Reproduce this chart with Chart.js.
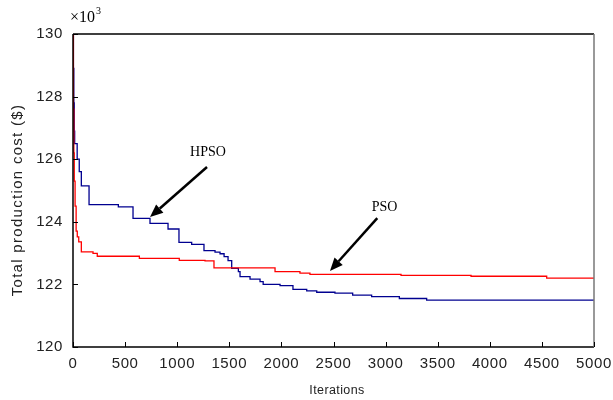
<!DOCTYPE html>
<html>
<head>
<meta charset="utf-8">
<script src="https://cdn.jsdelivr.net/npm/chart.js@4.4.1/dist/chart.umd.min.js"></script>
<style>
    html, body { margin: 0; padding: 0; background: #fff; }
    #wrap { width: 613px; height: 400px; }
</style>
</head>
<body>
<div id="wrap"><canvas id="costChart" width="613" height="400"></canvas></div>
<script>
// convergence data: [iteration, cost x10^3 $]
var hpsoIter = [0, 4, 8, 12, 16, 40, 60, 80, 154, 435, 576, 739, 912, 1017, 1139, 1257, 1363, 1411, 1450, 1488, 1523, 1587, 1603, 1699, 1795, 1825, 1987, 2111, 2243, 2339, 2514, 2684, 2866, 3132, 3394, 5000];
var hpsoCost = [130, 128.9, 127.8, 126.9, 126.5, 126.0, 125.6, 125.15, 124.55, 124.48, 124.11, 123.95, 123.77, 123.34, 123.28, 123.08, 123.03, 122.98, 122.89, 122.76, 122.51, 122.41, 122.25, 122.17, 122.09, 122.0, 121.96, 121.84, 121.79, 121.75, 121.72, 121.66, 121.61, 121.55, 121.5, 121.5];

var psoIter = [0, 4, 8, 12, 20, 30, 41, 55, 80, 192, 233, 637, 1020, 1267, 1353, 1939, 2178, 2274, 3148, 3820, 4546, 5000];
var psoCost = [130, 127.6, 126.2, 125.3, 124.5, 123.7, 123.52, 123.36, 123.04, 122.99, 122.9, 122.83, 122.77, 122.75, 122.53, 122.41, 122.36, 122.32, 122.29, 122.26, 122.2, 122.2];

var xTicks = [0, 500, 1000, 1500, 2000, 2500, 3000, 3500, 4000, 4500, 5000];
var yTicks = [120, 122, 124, 126, 128, 130];

var xTitle = 'Iterations';
var yTitle = 'Total production cost ($)';

// callouts: label, label position, arrow tail, arrow head (data units)
var calloutNames = ['HPSO', 'PSO'];
var calloutText = [[1295, 126.23], [2990, 124.47]];
var calloutTail = [[1286, 125.75], [2920, 124.12]];
var calloutHead = [[739, 124.15], [2466, 122.43]];

var sans = '"Liberation Sans", Arial, sans-serif';
var serif = '"Liberation Serif", "Times New Roman", serif';

function toPoints(xs, ys) {
    var pts = [];
    for (var i = 0; i < xs.length; i++) {
        pts.push({ x: xs[i], y: ys[i] });
    }
    return pts;
}

// frame, inner tick marks, titles, x10^3 and arrows
var extrasPlugin = {
    id: 'extras',
    beforeDraw: function(chart) {
        chart.ctx.letterSpacing = '0.6px';
    },
    afterDraw: function(chart) {
        var ctx = chart.ctx;
        var a = chart.chartArea;
        var xs = chart.scales.x;
        var ys = chart.scales.y;

        ctx.save();
        ctx.letterSpacing = '0px';
        ctx.strokeStyle = '#000';
        ctx.lineWidth = 1.5;
        ctx.beginPath();
        ctx.moveTo(a.left, a.top);
        ctx.lineTo(a.left, a.bottom);
        ctx.lineTo(a.right, a.bottom);
        ctx.moveTo(a.left, a.top);
        ctx.lineTo(a.right, a.top);
        ctx.stroke();
        ctx.strokeStyle = '#777';
        ctx.beginPath();
        ctx.moveTo(a.right, a.top);
        ctx.lineTo(a.right, a.bottom);
        ctx.stroke();

        ctx.strokeStyle = '#000';
        ctx.lineWidth = 1;
        ctx.beginPath();
        xTicks.forEach(function(v) {
            var px = Math.round(xs.getPixelForValue(v)) + 0.5;
            ctx.moveTo(px, a.bottom);
            ctx.lineTo(px, a.bottom - 5);
        });
        yTicks.forEach(function(v) {
            var py = Math.round(ys.getPixelForValue(v)) + 0.5;
            ctx.moveTo(a.left, py);
            ctx.lineTo(a.left + 5, py);
        });
        ctx.stroke();

        // axis titles
        ctx.fillStyle = '#222';
        ctx.textAlign = 'center';
        ctx.textBaseline = 'middle';
        ctx.font = '12.5px ' + sans;
        ctx.letterSpacing = '0.4px';
        ctx.fillText(xTitle, a.left + 264, 391);
        ctx.save();
        ctx.translate(18, 200);
        ctx.rotate(-Math.PI / 2);
        ctx.font = '15px ' + sans;
        ctx.letterSpacing = '1.3px';
        ctx.fillText(yTitle, 0, 0);
        ctx.restore();
        ctx.letterSpacing = '0px';

        // exponent
        ctx.fillStyle = '#000';
        ctx.font = '16px ' + serif;
        ctx.textBaseline = 'alphabetic';
        ctx.textAlign = 'left';
        var ex = a.left - 3;
        ctx.fillText('\u00d710', ex, a.top - 12);
        var w = ctx.measureText('\u00d710').width;
        ctx.font = '10px ' + serif;
        ctx.fillText('3', ex + w + 1, a.top - 20);

        for (var i = 0; i < calloutNames.length; i++) {
            var tx = xs.getPixelForValue(calloutText[i][0]);
            var ty = ys.getPixelForValue(calloutText[i][1]);
            ctx.font = '14px ' + serif;
            ctx.textAlign = 'center';
            ctx.textBaseline = 'middle';
            ctx.fillText(calloutNames[i], tx, ty);

            var x1 = xs.getPixelForValue(calloutTail[i][0]);
            var y1 = ys.getPixelForValue(calloutTail[i][1]);
            var x2 = xs.getPixelForValue(calloutHead[i][0]);
            var y2 = ys.getPixelForValue(calloutHead[i][1]);
            var ang = Math.atan2(y2 - y1, x2 - x1);
            var hl = 13;
            var bx = x2 - hl * Math.cos(ang);
            var by = y2 - hl * Math.sin(ang);
            ctx.lineWidth = 2.5;
            ctx.beginPath();
            ctx.moveTo(x1, y1);
            ctx.lineTo(bx, by);
            ctx.stroke();
            ctx.beginPath();
            ctx.moveTo(x2, y2);
            ctx.lineTo(bx + 5.5 * Math.cos(ang + Math.PI / 2), by + 5.5 * Math.sin(ang + Math.PI / 2));
            ctx.lineTo(bx + 5.5 * Math.cos(ang - Math.PI / 2), by + 5.5 * Math.sin(ang - Math.PI / 2));
            ctx.closePath();
            ctx.fill();
        }
        ctx.restore();
    }
};

var ctx = document.getElementById('costChart').getContext('2d');
var chart = new Chart(ctx, {
    type: 'line',
    data: {
        datasets: [
            {
                label: 'PSO',
                data: toPoints(psoIter, psoCost),
                borderColor: '#ff0000',
                borderWidth: 1.3,
                pointRadius: 0,
                stepped: true,
                fill: false
            },
            {
                label: 'HPSO',
                data: toPoints(hpsoIter, hpsoCost),
                borderColor: '#000090',
                borderWidth: 1.3,
                pointRadius: 0,
                stepped: true,
                fill: false
            }
        ]
    },
    options: {
        responsive: false,
        animation: false,
        layout: { padding: { top: 34, right: 19, left: 0, bottom: 0 } },
        plugins: {
            legend: { display: false },
            tooltip: { enabled: false }
        },
        scales: {
            x: {
                type: 'linear',
                min: 0,
                max: 5000,
                afterBuildTicks: function(scale) {
                    scale.ticks = xTicks.map(function(v) { return { value: v }; });
                },
                grid: { display: false, drawTicks: false },
                border: { display: false },
                ticks: {
                    padding: 8,
                    maxRotation: 0,
                    color: '#222',
                    font: { family: sans, size: 15 },
                    callback: function(v) { return String(v); }
                },
                afterFit: function(scale) {
                    scale.height = 53;
                    scale.paddingRight = 0;
                }
            },
            y: {
                min: 120,
                max: 130,
                afterBuildTicks: function(scale) {
                    scale.ticks = yTicks.map(function(v) { return { value: v }; });
                },
                grid: { display: false, drawTicks: false },
                border: { display: false },
                ticks: {
                    padding: 10,
                    color: '#222',
                    font: { family: sans, size: 15 },
                    callback: function(v) { return String(v); }
                },
                afterFit: function(scale) { scale.width = 73; }
            }
        }
    },
    plugins: [extrasPlugin]
});
</script>
</body>
</html>
